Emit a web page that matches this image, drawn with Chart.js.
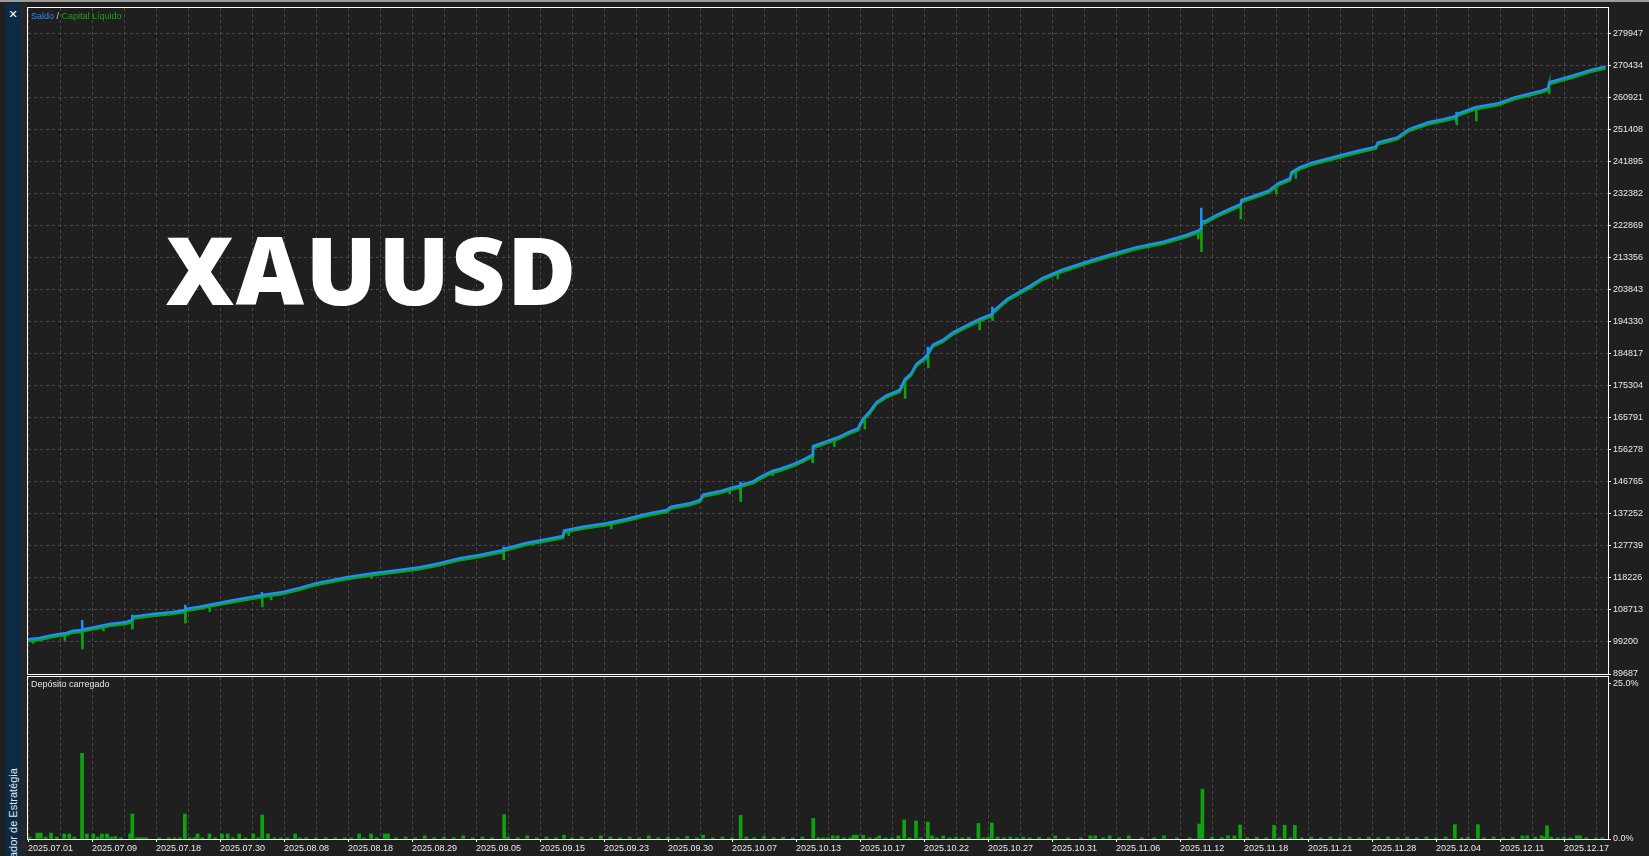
<!DOCTYPE html>
<html lang="pt">
<head>
<meta charset="UTF-8">
<title>XAUUSD - Saldo / Capital Líquido</title>
<style>
    html, body { margin: 0; padding: 0; background: #1f1f1f; overflow: hidden; }
    body { width: 1649px; height: 856px; position: relative; font-family: "Liberation Sans", Arial, sans-serif; }
    #mainChart { position: absolute; left: 0; top: 0; }
    #loadChart { position: absolute; left: 0; top: 676px; background: #1f1f1f; }
    .topline { position: absolute; left: 0; top: 0; width: 1649px; height: 2px; background: #9c9c9c; z-index: 5; }
    .sidebar { position: absolute; left: 5px; top: 3px; width: 16px; height: 853px; background: #0c2a44; z-index: 5; }
    .gap { position: absolute; left: 21px; top: 3px; width: 6px; height: 853px; background: #262626; z-index: 5; }
    .close { position: absolute; left: 5px; top: 8px; width: 16px; text-align: center; color: #fff; font: bold 11px "DejaVu Sans", sans-serif; z-index: 6; }
    .vtext { position: absolute; left: 7px; top: 858px; transform-origin: 0 0; transform: rotate(-90deg); color: #e6e6e6; font-size: 11px; line-height: 12px; white-space: nowrap; z-index: 6; }
    .legend { position: absolute; left: 31px; top: 11px; font-size: 9px; line-height: 11px; z-index: 4; white-space: nowrap; }
    .legend .b { color: #2a8ef2; }
    .legend .s { color: #e0d0c0; }
    .legend .g { color: #17a317; }
    .loadtitle { position: absolute; left: 31px; top: 679px; font-size: 9px; line-height: 11px; color: #e6e6e6; z-index: 4; }
    .symbol { position: absolute; left: 166px; top: 222px; font-family: "Open Sans", sans-serif; font-weight: 800; font-size: 94px; line-height: 94px; letter-spacing: 1.7px; color: #fff; z-index: 3; }
</style>
</head>
<body>
    <div class="topline"></div>
    <div class="sidebar"></div>
    <div class="gap"></div>
    <div class="close">✕</div>
    <div class="vtext">ador de Estratégia</div>

    <canvas id="mainChart" width="1649" height="680"></canvas>
    <canvas id="loadChart" width="1649" height="180"></canvas>

    <div class="legend"><span class="b">Saldo</span><span class="s"> / </span><span class="g">Capital Líquido</span></div>
    <div class="loadtitle">Depósito carregado</div>
    <div class="symbol">XAUUSD</div>

    <script src="https://cdn.jsdelivr.net/npm/chart.js"></script>
    <script>
        // x is the position along the test, 1 unit = one vertical grid line
        const dateLabels = ['2025.07.01', '2025.07.09', '2025.07.18', '2025.07.30', '2025.08.08', '2025.08.18',
            '2025.08.29', '2025.09.05', '2025.09.15', '2025.09.23', '2025.09.30', '2025.10.07', '2025.10.13',
            '2025.10.17', '2025.10.22', '2025.10.27', '2025.10.31', '2025.11.06', '2025.11.12', '2025.11.18',
            '2025.11.21', '2025.11.28', '2025.12.04', '2025.12.11', '2025.12.17'];

        const yTicks = [89687, 99200, 108713, 118226, 127739, 137252, 146765, 156278, 165791, 175304, 184817,
            194330, 203843, 213356, 222869, 232382, 241895, 251408, 260921, 270434, 279947];
        const yMin = 89687;
        const yMax = 287676;
        const xMax = 49.375;

        const loadTicks = [0, 25];

        // balance (Saldo): [x, value]
        const balance = [
            [0, 100000], [0.36, 100400], [0.78, 101280], [1.2, 101880], [1.41, 102570], [1.69, 102770],
            [1.71, 102950], [2.14, 103760], [2.55, 104550], [3.07, 105150], [3.25, 105740], [3.28, 106730],
            [3.9, 107520], [4.53, 108120], [4.91, 108710], [4.93, 109000], [5.36, 109700], [5.99, 110890],
            [6.61, 111980], [7.03, 112680], [7.31, 113070], [7.33, 113200], [7.97, 114060], [8.49, 115300],
            [9.01, 116700], [9.95, 118420], [10.78, 119610], [11.61, 120600], [12.24, 121400], [12.86, 122590],
            [13.49, 124070], [14.11, 125060], [14.74, 126350], [14.86, 126500], [14.87, 126850], [15.57, 128630],
            [16.4, 130120], [16.72, 130710], [16.75, 132300], [17.34, 133490], [18.07, 134480], [18.7, 135760],
            [19.32, 137250], [19.95, 138440], [20.1, 139430], [20.68, 140420], [21.0, 141410], [21.1, 143000],
            [21.61, 143990], [22.03, 145180], [22.26, 145670], [22.28, 145900], [22.66, 146960], [22.92, 148450],
            [23.28, 150130], [23.49, 150630], [23.9, 152000], [24.2, 153300], [24.5, 154800], [24.53, 157400],
            [24.95, 158850], [25.36, 160240], [25.68, 161730], [25.94, 162720], [25.99, 163810], [26.09, 165490],
            [26.3, 167670], [26.51, 170450], [26.82, 172430], [27.24, 174110], [27.4, 177280], [27.6, 179070],
            [27.76, 181840], [27.97, 183330], [28.12, 184820], [28.14, 185400], [28.28, 187590], [28.59, 188980],
            [28.91, 191260], [29.32, 193240], [29.74, 195220], [30.13, 196710], [30.15, 197300], [30.36, 199180],
            [30.6, 201170], [31.33, 205130], [31.7, 207400], [32.3, 209780], [33.28, 212850], [33.89, 214540],
            [34.62, 216520], [35.48, 218210], [36.2, 220190], [36.57, 221480], [36.66, 222200], [36.68, 224000],
            [36.82, 224450], [37.2, 226430], [37.55, 227920], [37.9, 229400], [37.92, 230600], [38.28, 231700],
            [38.77, 233380], [39.07, 235550], [39.44, 237000], [39.48, 238800], [39.74, 240300], [40.1, 241600],
            [40.84, 243480], [41.57, 245250], [42.12, 246450], [42.18, 247700], [42.79, 249200], [43.16, 251700],
            [43.77, 253700], [44.26, 254700], [44.64, 255600], [44.66, 256150], [45.23, 258150], [45.96, 259400],
            [46.45, 261100], [47.3, 263100], [47.5, 263800], [47.54, 265570], [48.26, 267550], [48.87, 269350],
            [49.3, 270250]
        ];

        // short upward blue spikes on the balance line: [x, top]
        const balanceSpikes = [
            [1.69, 105740], [3.25, 107330], [4.91, 110300], [7.31, 114050], [14.86, 127530], [22.26, 146860],
            [28.12, 187000], [30.13, 198890], [36.66, 228300], [44.64, 256850]
        ];

        // equity (Capital Líquido) drawdowns: [x, low]
        const equityDips = [
            [0.16, 99300], [1.15, 100200], [1.7, 97610], [2.36, 103000], [3.26, 103560], [4.92, 105340],
            [5.68, 108700], [7.32, 110100], [7.6, 112200], [10.73, 118600], [14.87, 124170], [16.9, 131300],
            [18.23, 133300], [21.93, 143690], [22.27, 141410], [23.28, 149140], [24.53, 153000], [25.2, 157800],
            [26.15, 163000], [27.41, 172130], [28.13, 181150], [29.74, 192440], [30.14, 195220], [32.18, 207600],
            [36.57, 219500], [36.67, 215730], [37.9, 225450], [39.01, 232880], [39.62, 237500], [44.65, 253400],
            [45.26, 254600], [47.54, 262600]
        ];

        // deposit load in %: [x, percent]
        const loadBars = [
            [0.05, 0.3], [0.29, 0.95], [0.4, 0.95], [0.55, 0.3], [0.72, 0.95], [0.9, 0.3], [1.13, 0.8], [1.29, 0.8],
            [1.45, 0.3], [1.69, 13.75], [1.84, 0.8], [2.04, 0.8], [2.18, 0.3], [2.31, 0.8], [2.47, 0.8], [2.6, 0.3],
            [2.73, 0.4], [2.9, 0.2], [3.19, 0.8], [3.26, 4.0], [3.4, 0.2], [3.5, 0.2], [3.6, 0.2], [3.7, 0.2],
            [4.1, 0.2], [4.4, 0.2], [4.58, 0.2], [4.75, 0.2], [4.9, 4.0], [5.05, 0.2], [5.2, 0.2], [5.3, 0.8],
            [5.45, 0.2], [5.67, 0.8], [5.85, 0.2], [6.06, 0.8], [6.24, 0.8], [6.4, 0.2], [6.6, 0.8], [6.8, 0.2],
            [7.04, 0.8], [7.2, 0.2], [7.32, 3.85], [7.5, 0.8], [7.7, 0.2], [7.9, 0.2], [8.1, 0.2], [8.35, 0.8],
            [8.5, 0.2], [8.7, 0.2], [9.0, 0.2], [9.3, 0.2], [9.6, 0.2], [9.9, 0.2], [10.1, 0.2], [10.35, 0.8],
            [10.5, 0.2], [10.72, 0.8], [10.9, 0.2], [11.15, 0.8], [11.25, 0.8], [11.5, 0.2], [11.8, 0.3], [12.1, 0.2],
            [12.4, 0.5], [12.7, 0.2], [13.0, 0.3], [13.3, 0.2], [13.6, 0.5], [13.9, 0.2], [14.2, 0.3], [14.5, 0.2],
            [14.88, 3.9], [15.0, 0.3], [15.3, 0.2], [15.6, 0.5], [15.9, 0.2], [16.2, 0.3], [16.5, 0.2], [16.75, 0.6],
            [17.0, 0.2], [17.3, 0.3], [17.6, 0.2], [17.9, 0.5], [18.2, 0.3], [18.5, 0.2], [18.8, 0.3], [19.1, 0.2],
            [19.4, 0.5], [19.7, 0.2], [20.0, 0.3], [20.3, 0.2], [20.6, 0.4], [20.9, 0.2], [21.1, 0.6], [21.4, 0.2],
            [21.7, 0.3], [22.0, 0.2], [22.27, 3.8], [22.45, 0.3], [22.7, 0.2], [23.0, 0.4], [23.3, 0.2], [23.6, 0.3],
            [23.9, 0.2], [24.2, 0.3], [24.54, 3.3], [24.7, 0.2], [24.85, 0.2], [25.0, 0.2], [25.15, 0.5], [25.3, 0.5],
            [25.5, 0.2], [25.7, 0.2], [25.8, 0.6], [25.9, 0.6], [26.1, 0.6], [26.3, 0.2], [26.5, 0.2], [26.6, 0.5],
            [26.8, 0.2], [27.0, 0.2], [27.2, 0.5], [27.38, 3.05], [27.55, 0.2], [27.75, 2.9], [27.9, 0.2], [28.12, 2.73],
            [28.25, 0.5], [28.4, 0.2], [28.6, 0.5], [28.8, 0.2], [29.0, 0.3], [29.2, 0.2], [29.4, 0.3], [29.7, 2.5],
            [29.85, 0.2], [30.0, 0.3], [30.12, 2.57], [30.3, 0.3], [30.5, 0.2], [30.7, 0.3], [30.9, 0.2], [31.1, 0.3],
            [31.3, 0.2], [31.6, 0.3], [31.9, 0.2], [32.1, 0.5], [32.5, 0.2], [32.9, 0.2], [33.2, 0.5], [33.35, 0.5],
            [33.6, 0.2], [33.8, 0.5], [34.1, 0.2], [34.4, 0.5], [34.8, 0.2], [35.2, 0.2], [35.5, 0.5], [35.9, 0.2],
            [36.3, 0.2], [36.6, 2.4], [36.7, 8.0], [37.0, 0.3], [37.3, 0.2], [37.5, 0.5], [37.7, 0.5], [37.88, 2.25],
            [38.1, 0.2], [38.4, 0.3], [38.7, 0.2], [38.94, 2.2], [39.1, 0.2], [39.27, 2.2], [39.45, 0.2], [39.59, 2.2],
            [39.8, 0.2], [40.1, 0.3], [40.4, 0.2], [40.7, 0.3], [41.0, 0.2], [41.3, 0.3], [41.6, 0.2], [41.9, 0.3],
            [42.2, 0.2], [42.5, 0.3], [42.8, 0.2], [43.1, 0.3], [43.4, 0.2], [43.7, 0.3], [44.0, 0.2], [44.3, 0.3],
            [44.59, 2.3], [44.8, 0.2], [45.0, 0.3], [45.31, 2.3], [45.5, 0.2], [45.8, 0.3], [46.1, 0.2], [46.4, 0.3],
            [46.7, 0.5], [46.85, 0.5], [47.1, 0.3], [47.3, 0.5], [47.38, 0.3], [47.47, 2.1], [47.6, 0.3], [47.8, 0.2],
            [48.0, 0.3], [48.2, 0.2], [48.4, 0.5], [48.5, 0.5], [48.7, 0.2], [49.0, 0.2], [49.2, 0.2]
        ];

        const blue = '#1e8ff5';
        const green = '#0ea30e';
        const gridColor = '#4a4a4a';
        const labelColor = '#e8e8e8';
        const smallFont = { family: 'Liberation Sans', size: 9 };

        function balanceAt(u) {
            for (let i = 1; i < balance.length; i++) {
                const [x0, y0] = balance[i - 1];
                const [x1, y1] = balance[i];
                if (u <= x1) return x1 === x0 ? y1 : y0 + (y1 - y0) * (u - x0) / (x1 - x0);
            }
            return balance[balance.length - 1][1];
        }

        // base line plus vertical spikes (same x: base -> extreme -> base)
        function withSpikes(spikes) {
            const pts = balance.map(([x, y]) => ({ x, y, k: 0 }));
            spikes.forEach(([x, v]) => {
                const base = balanceAt(x);
                pts.push({ x, y: base, k: 1 }, { x, y: v, k: 2 }, { x, y: base, k: 3 });
            });
            pts.sort((a, b) => a.x - b.x || a.k - b.k);
            return pts.map(p => ({ x: p.x, y: p.y }));
        }

        const gridTicks = [];
        for (let i = 0; i <= Math.floor(xMax); i++) gridTicks.push(i);

        // fixed axis box, no extra room for the end labels
        function fixRightAxis(s) {
            s.width = 41;
            s.paddingTop = 0;
            s.paddingBottom = 0;
        }

        const framePlugin = {
            id: 'frame',
            afterDraw(chart) {
                const { ctx, chartArea: a } = chart;
                ctx.save();
                ctx.strokeStyle = '#ffffff';
                ctx.lineWidth = 1;
                ctx.strokeRect(a.left - 0.5, a.top - 0.5, a.right - a.left + 1, a.bottom - a.top + 1);
                ctx.restore();
            }
        };

        // equity is drawn just under the balance line, like the terminal does
        const shiftPlugin = {
            id: 'shift',
            beforeDatasetDraw(chart, args) {
                if (args.index === 0) { chart.ctx.save(); chart.ctx.translate(0, 2); }
            },
            afterDatasetDraw(chart, args) {
                if (args.index === 0) chart.ctx.restore();
            }
        };

        new Chart(document.getElementById('mainChart'), {
            type: 'line',
            data: {
                datasets: [{
                    label: 'Capital Líquido',
                    data: withSpikes(equityDips),
                    borderColor: green,
                    borderWidth: 2.5,
                    pointRadius: 0,
                    tension: 0,
                    order: 2
                }, {
                    label: 'Saldo',
                    data: withSpikes(balanceSpikes),
                    borderColor: blue,
                    borderWidth: 2.5,
                    pointRadius: 0,
                    tension: 0,
                    order: 1
                }]
            },
            options: {
                responsive: false,
                animation: false,
                events: [],
                layout: { padding: { left: 28, top: 8, right: 0, bottom: 6 } },
                plugins: { legend: { display: false }, tooltip: { enabled: false } },
                scales: {
                    x: {
                        type: 'linear',
                        min: 0,
                        max: xMax,
                        afterBuildTicks: s => { s.ticks = gridTicks.map(v => ({ value: v })); },
                        afterFit: s => { s.height = 0; s.paddingLeft = 0; s.paddingRight = 0; },
                        ticks: { display: false },
                        grid: { color: gridColor, drawTicks: false },
                        border: { display: false, dash: [3, 3] }
                    },
                    y: {
                        position: 'right',
                        min: yMin,
                        max: yMax,
                        afterBuildTicks: s => { s.ticks = yTicks.map(v => ({ value: v })); },
                        afterFit: fixRightAxis,
                        ticks: { color: labelColor, font: smallFont, padding: 2, callback: v => String(v) },
                        grid: { color: gridColor, tickColor: '#ffffff', tickLength: 3, tickBorderDash: [] },
                        border: { display: false, dash: [3, 3] }
                    }
                }
            },
            plugins: [framePlugin, shiftPlugin]
        });

        new Chart(document.getElementById('loadChart'), {
            type: 'bar',
            data: {
                datasets: [{
                    label: 'Depósito carregado',
                    data: loadBars.map(([x, y]) => ({ x, y })),
                    backgroundColor: green,
                    barThickness: 3,
                    grouped: false
                }]
            },
            options: {
                responsive: false,
                animation: false,
                events: [],
                layout: { padding: { left: 28, top: 1, right: 0, bottom: 0 } },
                plugins: { legend: { display: false }, tooltip: { enabled: false } },
                scales: {
                    x: {
                        type: 'linear',
                        min: 0,
                        max: xMax,
                        offset: false,
                        afterBuildTicks: s => { s.ticks = gridTicks.map(v => ({ value: v })); },
                        afterFit: s => { s.height = 17; s.paddingLeft = 0; s.paddingRight = 0; },
                        ticks: {
                            color: labelColor,
                            font: smallFont,
                            padding: 1,
                            align: 'start',
                            autoSkip: false,
                            maxRotation: 0,
                            minRotation: 0,
                            callback: v => (v % 2 === 0 ? dateLabels[v / 2] : '')
                        },
                        grid: {
                            offset: false,
                            color: gridColor,
                            tickLength: 3,
                            tickBorderDash: [],
                            tickColor: c => (c.index % 2 === 0 ? '#ffffff' : 'rgba(0,0,0,0)')
                        },
                        border: { display: false, dash: [3, 3] }
                    },
                    y: {
                        position: 'right',
                        min: 0,
                        max: 26,
                        afterBuildTicks: s => { s.ticks = loadTicks.map(v => ({ value: v })); },
                        afterFit: fixRightAxis,
                        ticks: { color: labelColor, font: smallFont, padding: 2, callback: v => v.toFixed(1) + '%' },
                        grid: { drawOnChartArea: false, tickColor: '#ffffff', tickLength: 3 },
                        border: { display: false }
                    }
                }
            },
            plugins: [framePlugin]
        });
    </script>
</body>
</html>
